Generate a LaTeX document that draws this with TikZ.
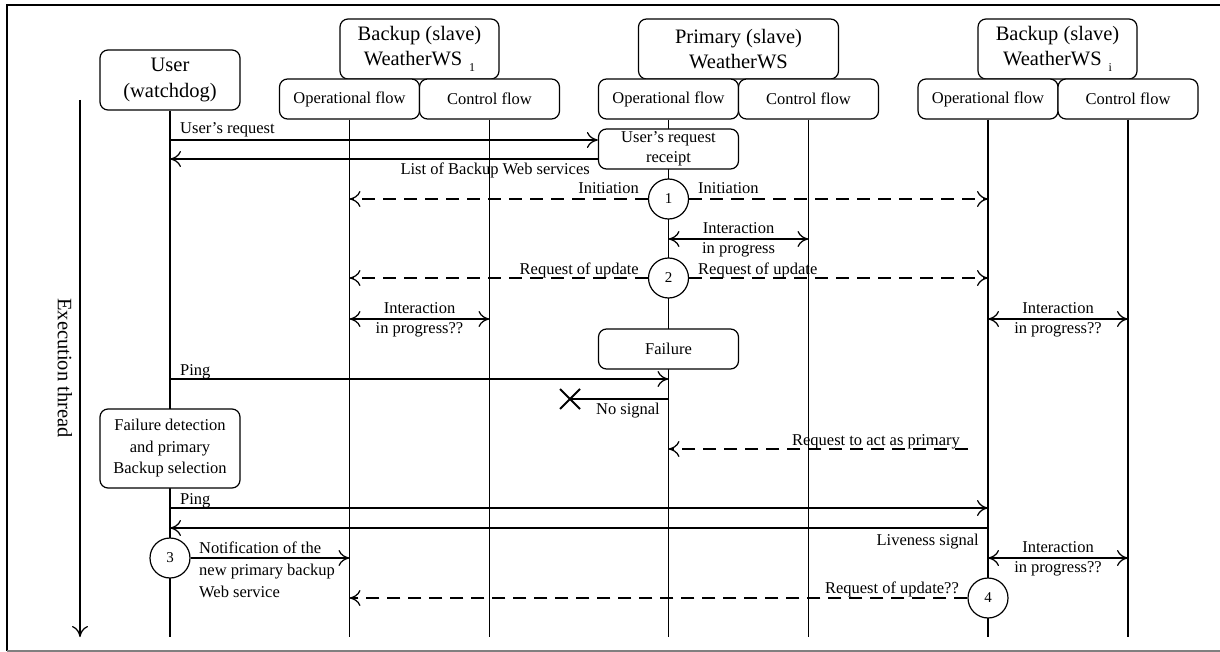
\documentclass[tikz,border=0pt]{standalone}
\usepackage{fontspec}
\setmainfont{Liberation Serif}
\usetikzlibrary{arrows.meta,calc}
\pgfdeclarelayer{bg}
\pgfsetlayers{bg,main}

\newcommand\hdrsize{\fontsize{20.5}{25.5}\selectfont}
\newcommand\lblsize{\fontsize{16.5}{20}\selectfont}
\newcommand\subidx[1]{\,\,\raisebox{-6pt}{\fontsize{12}{12}\selectfont #1}}
\newcommand\apos{\char"0027\relax}

\tikzset{
  box/.style={draw, line width=1.2pt, rounded corners=8pt, align=center,
    inner sep=0pt, fill=white},
  hdrbox/.style={box, minimum height=60pt, font=\hdrsize},
  flowbox/.style={box, minimum width=140pt, minimum height=40pt, font=\lblsize},
  stepcirc/.style={circle, draw, line width=1.2pt, minimum size=40pt,
    inner sep=0pt, fill=white, font=\fontsize{15}{15}\selectfont},
  life/.style={line width=1.25pt},
  msg/.style={line width=1.25pt},
  dmsg/.style={msg, dash pattern=on 13pt off 8pt},
  lbl/.style={inner sep=0pt, font=\lblsize},
}

\begin{document}
\begin{tikzpicture}[x=1pt, y=-1pt,
  >={Computer Modern Rightarrow[length=11pt,width=16pt]}]
\useasboundingbox (0,0) rectangle (1220,652);

% frame
\coordinate (frBL) at (7,651);
\coordinate (frTL) at (7,5);
\coordinate (frTR) at (1220,5);
\coordinate (frBR) at (1220,651);
\draw[line width=2pt] (frBL) -- (frTL) -- (frTR);
\draw[line width=1.5pt, gray] (frBL) -- (frBR);

% time axis
\coordinate (exTop) at (80,100);
\coordinate (exBot) at (80,637);
\draw[msg, ->] (exTop) -- (exBot);
\node[font=\hdrsize, rotate=-90, inner sep=0pt] (exLbl) at (65,368) {Execution thread};

% participants
\node[hdrbox, minimum width=140pt] (user) at (170,80) {User\\(watchdog)};
\node[hdrbox, minimum width=159pt] (bk1) at (419.5,49) {Backup (slave)\\WeatherWS\subidx{1}};
\node[hdrbox, minimum width=200pt] (prim) at (738.5,49) {Primary (slave)\\WeatherWS};
\node[hdrbox, minimum width=159pt] (bki) at (1057.5,49) {Backup (slave)\\WeatherWS\subidx{i}};

\node[flowbox] (b1op) at (349.5,99) {Operational flow};
\node[flowbox] (b1ct) at (489.5,99) {Control flow};
\node[flowbox] (pop)  at (668.5,99) {Operational flow};
\node[flowbox] (pct)  at (808.5,99) {Control flow};
\node[flowbox] (biop) at (988,99)   {Operational flow};
\node[flowbox] (bict) at (1128,99)  {Control flow};

% activity boxes and numbered steps
\node[flowbox] (receipt) at (668.5,149) {User\apos s request\\receipt};
\node[flowbox] (failure) at (668.5,349) {Failure};
\node[flowbox, minimum height=79pt, font=\fontsize{16.5}{21.5}\selectfont]
  (detect) at (170,448.5) {Failure detection\\and primary\\Backup selection};
\node[stepcirc] (c1) at (668.5,199) {1};
\node[stepcirc] (c2) at (668.5,278) {2};
\node[stepcirc] (c3) at (170,558) {3};
\node[stepcirc] (c4) at (988,598) {4};

% lifelines
\coordinate (bottomRef) at (0,637);
\begin{pgfonlayer}{bg}
  \foreach \n in {user,b1op,b1ct,pop,pct,biop,bict}
    \draw[life] (\n.south) -- (\n.south |- bottomRef);
\end{pgfonlayer}

% message rows
\coordinate (yReq)  at (0,140);
\coordinate (yList) at (0,159);
\coordinate (yIntP) at (0,239);
\coordinate (yInt1) at (0,319);
\coordinate (yPing) at (0,379);
\coordinate (yNo)   at (0,399);
\coordinate (yAct)  at (0,449);
\coordinate (yPing2) at (0,508);
\coordinate (yLive) at (0,528);
\coordinate (yInt2) at (0,558);

\draw[msg, ->] (yReq -| user) -- (yReq -| receipt.west);
\draw[msg, ->] (yList -| receipt.west) -- (yList -| user);
\draw[dmsg, ->] (c1.west) -- (c1.west -| b1op);
\draw[dmsg, ->] (c1.east) -- (c1.east -| biop);
\draw[msg, <->] (yIntP -| pop) -- (yIntP -| pct);
\draw[dmsg, ->] (c2.west) -- (c2.west -| b1op);
\draw[dmsg, ->] (c2.east) -- (c2.east -| biop);
\draw[msg, <->] (yInt1 -| b1op) -- (yInt1 -| b1ct);
\draw[msg, <->] (yInt1 -| biop) -- (yInt1 -| bict);
\draw[msg, ->] (yPing -| user) -- (yPing -| pop);

% lost signal
\coordinate (lost) at (570,399);
\draw[msg] (yNo -| pop) -- (lost);
\draw[line width=2pt] ($(lost)+(-10,-10)$) -- ($(lost)+(10,10)$)
  ($(lost)+(-10,10)$) -- ($(lost)+(10,-10)$);

\coordinate (actFrom) at (968,449);
\draw[dmsg, ->] (actFrom) -- (yAct -| pop);
\draw[msg, ->] (yPing2 -| user) -- (yPing2 -| biop);
\draw[msg, ->] (yLive -| biop) -- (yLive -| user);
\draw[msg, ->] (c3.east) -- (c3.east -| b1op);
\draw[msg, <->] (yInt2 -| biop) -- (yInt2 -| bict);
\draw[dmsg, ->] (c4.west) -- (c4.west -| b1op);

% labels
\node[lbl, anchor=base west] (tReq) at (180,134) {User\apos s request};
\node[lbl, anchor=base east] (tList) at (590,175) {List of Backup Web services};
\node[lbl, anchor=base east] (tIni1) at (639,194) {Initiation};
\node[lbl, anchor=base west] (tIni2) at (698,194) {Initiation};
\node[lbl, align=center] (tIntP) at (738.5,240) {Interaction\\in progress};
\node[lbl, anchor=base east] (tUpd1) at (639,274) {Request of update};
\node[lbl, anchor=base west] (tUpd2) at (698,274) {Request of update};
\node[lbl, align=center] (tInt1) at (419.5,320) {Interaction\\in progress??};
\node[lbl, align=center] (tInt2) at (1058,320) {Interaction\\in progress??};
\node[lbl, anchor=base west] (tPing) at (180,375) {Ping};
\node[lbl, anchor=base east] (tNo) at (660,414) {No signal};
\node[lbl, anchor=base east] (tAct) at (960,445) {Request to act as primary};
\node[lbl, anchor=base west] (tPing2) at (180,504) {Ping};
\node[lbl, anchor=base east] (tLive) at (979,545) {Liveness signal};
\node[lbl, align=left, anchor=north west, font=\fontsize{16.5}{22}\selectfont]
  (tNotif) at (199,542) {Notification of the\\new primary backup\\Web service};
\node[lbl, align=center] (tInt3) at (1058,559) {Interaction\\in progress??};
\node[lbl, anchor=base east] (tUpd3) at (959,593) {Request of update??};
\end{tikzpicture}
\end{document}
